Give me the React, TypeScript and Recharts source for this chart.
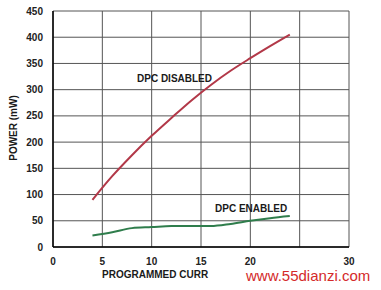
import { CartesianGrid, Line, LineChart, XAxis, YAxis } from "recharts";

// 出力電力 vs 設定電流。DPC 有効/無効の2系列。

const CURRENT = [4, 6, 8, 10, 12, 14, 16, 18, 20, 22, 24];
const DPC_DISABLED = [90, 135, 175, 212, 246, 279, 309, 336, 360, 383, 405];
const DPC_ENABLED = [22, 28, 36, 38, 40, 40, 40, 44, 50, 55, 59];

const X_TICKS = [0, 5, 10, 15, 20, 25, 30];
const Y_TICKS = [0, 50, 100, 150, 200, 250, 300, 350, 400, 450];

const RED = "#b23848";
const GREEN = "#2f7d4c";
const FONT = "'Liberation Sans', Arial, sans-serif";

const data = CURRENT.map((c, i) => ({
  current: c,
  disabled: DPC_DISABLED[i],
  enabled: DPC_ENABLED[i],
}));

const tick = { fontSize: 10, fontWeight: 700, fill: "#222", fontFamily: FONT };

const labelStyle: React.CSSProperties = {
  position: "absolute",
  fontFamily: FONT,
  fontWeight: 700,
  fontSize: 10,
  color: "#1a1a1a",
  whiteSpace: "nowrap",
  lineHeight: 1,
};

export default function App() {
  return (
    <div style={{ position: "absolute", left: 0, top: 0, width: 381, height: 290, background: "#fff" }}>
      <LineChart width={381} height={290} data={data} margin={{ top: 11, right: 32, bottom: 13, left: 0 }}>
        <CartesianGrid stroke="#555" strokeWidth={1} />
        <XAxis
          dataKey="current"
          type="number"
          domain={[0, 30]}
          ticks={X_TICKS}
          tickFormatter={(v) => (v === 25 ? "" : String(v))}
          tick={tick}
          tickLine={false}
          axisLine={{ stroke: "#000", strokeWidth: 1.5 }}
          tickMargin={5}
          height={30}
        />
        <YAxis
          type="number"
          domain={[0, 450]}
          ticks={Y_TICKS}
          tick={tick}
          tickLine={false}
          axisLine={{ stroke: "#000", strokeWidth: 1.5 }}
          tickMargin={4}
          width={53}
        />
        <Line
          dataKey="disabled"
          type="monotone"
          stroke={RED}
          strokeWidth={2}
          dot={false}
          isAnimationActive={false}
        />
        <Line
          dataKey="enabled"
          type="monotone"
          stroke={GREEN}
          strokeWidth={2}
          dot={false}
          isAnimationActive={false}
        />
      </LineChart>

      {/* ラベル類 */}
      <div style={{ ...labelStyle, left: 137, top: 74 }}>DPC DISABLED</div>
      <div style={{ ...labelStyle, left: 215, top: 204 }}>DPC ENABLED</div>
      <div style={{ ...labelStyle, left: 102, top: 270 }}>PROGRAMMED CURR</div>
      <div
        style={{
          ...labelStyle,
          left: 14,
          top: 128,
          transform: "translate(-50%, -50%) rotate(-90deg)",
        }}
      >
        POWER (mW)
      </div>
      <div
        style={{
          position: "absolute",
          left: 246,
          top: 268,
          fontFamily: FONT,
          fontSize: 15,
          color: "#d42a2a",
          lineHeight: 1,
          whiteSpace: "nowrap",
        }}
      >
        www.55dianzi.com
      </div>
    </div>
  );
}
